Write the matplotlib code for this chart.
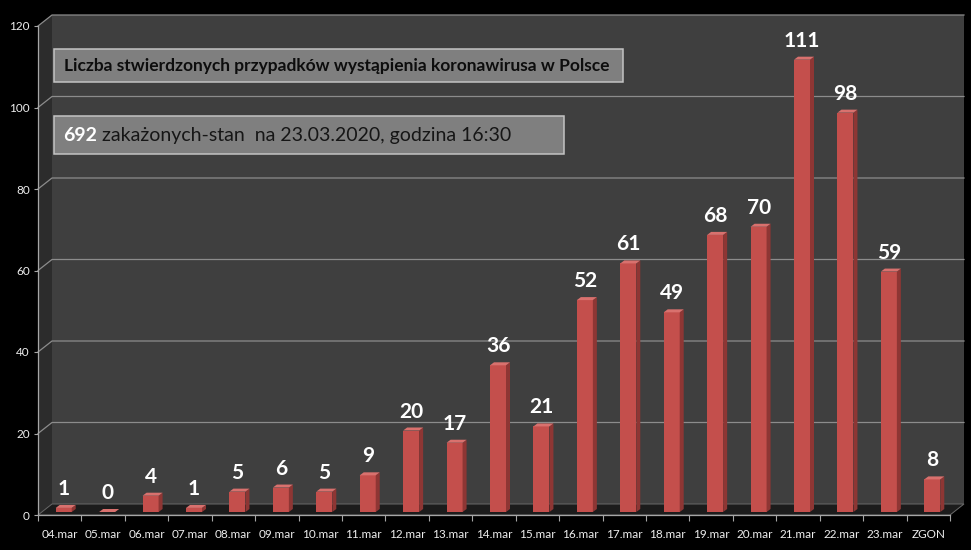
import numpy as np
import matplotlib
matplotlib.use('Agg')
import matplotlib.pyplot as plt
from matplotlib.patches import Polygon, Rectangle
from matplotlib.text import Annotation
from matplotlib import transforms as mtransforms

plt.rcParams['font.family'] = ['Lato', 'DejaVu Sans']

# data
days = ['04.mar', '05.mar', '06.mar', '07.mar', '08.mar', '09.mar', '10.mar',
        '11.mar', '12.mar', '13.mar', '14.mar', '15.mar', '16.mar', '17.mar',
        '18.mar', '19.mar', '20.mar', '21.mar', '22.mar', '23.mar', 'ZGON']
cases = [1, 0, 4, 1, 5, 6, 5, 9, 20, 17, 36, 21, 52, 61, 49, 68, 70, 111, 98, 59, 8]
y_ticks = [0, 20, 40, 60, 80, 100, 120]
title_text = 'Liczba stwierdzonych przypadków wystąpienia koronawirusa w Polsce'
total_text = '692'
status_text = ' zakażonych-stan  na 23.03.2020, godzina 16:30'

W, H = 971, 550
fig = plt.figure(figsize=(W / 100, H / 100), dpi=100, facecolor='black')

# front plane of the 3d box, in pixels
left_px, right_px, top_px, base_px = 38, 950, 26, 515
ax = fig.add_axes([left_px / W, (H - base_px) / H,
                   (right_px - left_px) / W, (base_px - top_px) / H])
ax.set_facecolor('none')
n = len(days)
ax.set_xlim(-0.5, n - 0.5)
ax.set_ylim(0, 120)

ppx = (right_px - left_px) / n      # pixels per category
ppy = (base_px - top_px) / 120.0    # pixels per unit
# depth of the box (14 px right, 11 px up)
ddx, ddy = 14 / ppx, 11 / ppy

x0, x1 = -0.5, n - 0.5
wall_kw = dict(clip_on=False, zorder=0, lw=0)
# left wall
ax.add_patch(Polygon([(x0, 0), (x0, 120), (x0 + ddx, 120 + ddy), (x0 + ddx, ddy)],
                     fc='#2c2c2c', **wall_kw))
# back wall
ax.add_patch(Polygon([(x0 + ddx, ddy), (x1 + ddx, ddy), (x1 + ddx, 120 + ddy),
                      (x0 + ddx, 120 + ddy)], fc='#3f3f3f', **wall_kw))
# floor
ax.add_patch(Polygon([(x0, 0), (x1, 0), (x1 + ddx, ddy), (x0 + ddx, ddy)],
                     fc='#1c1c1c', ec='#6a6a6a', lw=0.7, clip_on=False, zorder=0.5))

# gridlines on left + back wall
for t in y_ticks[1:]:
    ax.plot([x0, x0 + ddx, x1 + ddx], [t, t + ddy, t + ddy], color='#8c8c8c',
            lw=0.9, clip_on=False, zorder=1)

# bars (front face sits a bit inside the box)
bar_w = 16 / ppx
bdx, bdy = 4 / ppx, 3 / ppy
bar_tr = mtransforms.offset_copy(ax.transData, fig=fig, x=4, y=3, units='dots')
xs = np.arange(n)
ax.bar(xs, cases, width=bar_w, color='#c44f4c', lw=0, transform=bar_tr, zorder=3)
for xi, v in zip(xs, cases):
    r = xi + bar_w / 2
    l = xi - bar_w / 2
    ax.add_patch(Polygon([(r, 0), (r, v), (r + bdx, v + bdy), (r + bdx, bdy)],
                         fc='#8e3634', lw=0, transform=bar_tr, zorder=3, clip_on=False))
    ax.add_patch(Polygon([(l, v), (r, v), (r + bdx, v + bdy), (l + bdx, v + bdy)],
                         fc='#d9716e', lw=0, transform=bar_tr, zorder=3, clip_on=False))
    ax.annotate(str(v), xy=(xi, v), xycoords=bar_tr, xytext=(0, 19),
                textcoords='offset pixels', ha='center', va='center',
                color='white', fontsize=15, fontweight='bold', zorder=5)

# axes styling
for s in ['top', 'right']:
    ax.spines[s].set_visible(False)
for s in ['left', 'bottom']:
    ax.spines[s].set_color('#a6a6a6')
    ax.spines[s].set_linewidth(0.9)
ax.set_yticks(y_ticks)
ax.tick_params(axis='y', colors='#a6a6a6', labelcolor='#eeeeee', length=3,
               width=0.8, labelsize=8.5, pad=3)
ax.set_xticks(np.arange(n + 1) - 0.5)
ax.set_xticklabels([])
ax.set_xticks(xs, minor=True)
ax.set_xticklabels(days, minor=True)
ax.tick_params(axis='x', which='major', colors='#a6a6a6', length=4, width=0.8)
ax.tick_params(axis='x', which='minor', length=0, labelcolor='#eeeeee',
               labelsize=8.5, pad=10)


def fx(px):
    return px / W


def fy(py):
    return 1 - py / H


# text boxes on the wall
fig.add_artist(Rectangle((fx(54), fy(82)), fx(623) - fx(54), fy(49) - fy(82),
                         transform=fig.transFigure, fc='#7f7f7f', ec='#c4c4c4', lw=1.1))
fig.text(fx(64), fy(66), title_text, color='#0d0d0d', fontsize=12.5,
         fontweight='bold', va='center', ha='left')

fig.add_artist(Rectangle((fx(54), fy(154)), fx(564) - fx(54), fy(116) - fy(154),
                         transform=fig.transFigure, fc='#7f7f7f', ec='#c4c4c4', lw=1.1))
t1 = fig.text(fx(63), fy(141), total_text, color='white', fontsize=14,
              fontweight='bold', va='baseline', ha='left')
t2 = Annotation(status_text, xy=(1, 0), xycoords=t1, va='bottom', ha='left',
                color='#161616', fontsize=14)
t2.set_zorder(4)
fig.add_artist(t2)

fig.savefig('out.png', dpi=100, facecolor='black')
